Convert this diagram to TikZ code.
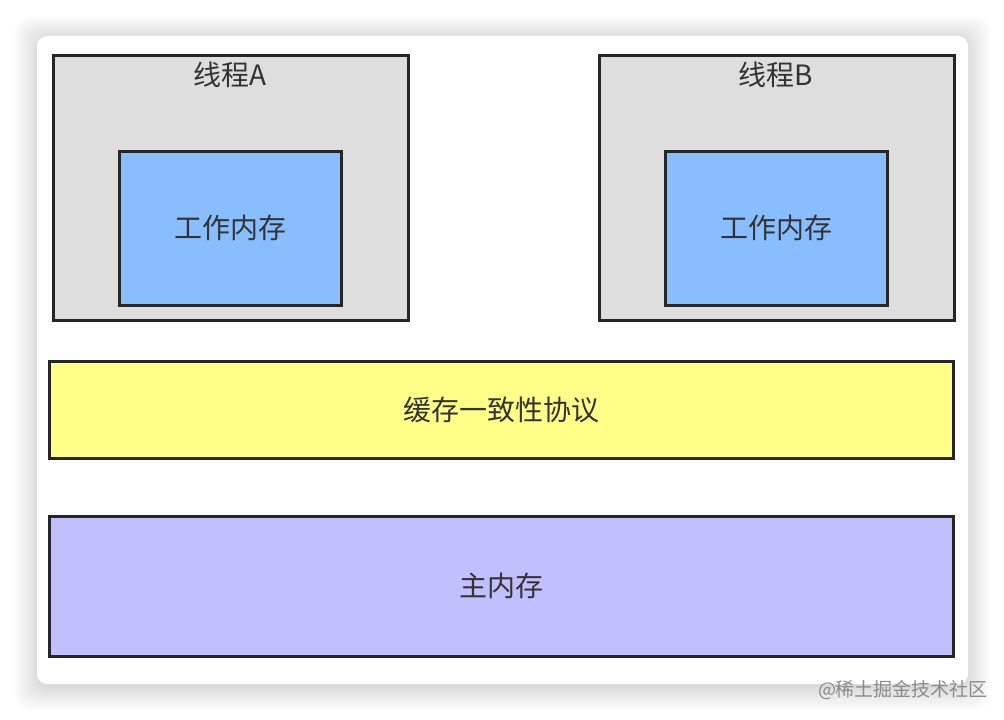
\documentclass[tikz,border=0pt]{standalone}
\usepackage{fontspec}
\setmainfont{Noto Sans CJK SC}
\usepackage{tikz}
\usetikzlibrary{positioning}

\definecolor{threadgray}{HTML}{DEDEDE}
\definecolor{workblue}{HTML}{88BEFF}
\definecolor{cacheyellow}{HTML}{FFFF88}
\definecolor{mainpurple}{HTML}{C0C0FF}
\definecolor{edgegray}{HTML}{262626}
\definecolor{txtgray}{HTML}{333333}

\tikzset{
  box/.style={draw=edgegray, line width=3pt, inner sep=0pt, text=txtgray,
    font=\fontsize{28}{32}\selectfont},
  threadbox/.style={box, fill=threadgray, minimum width=355pt, minimum height=265pt},
  workbox/.style={box, fill=workblue, minimum width=222pt, minimum height=154pt},
  barbox/.style={box, minimum width=904pt},
  title/.style={text=txtgray, font=\fontsize{28}{32}\selectfont, inner sep=0pt}
}

\begin{document}
\begin{tikzpicture}[x=1pt, y=-1pt]
\useasboundingbox (0,0) rectangle (1004,720);
\fill[white] (0,0) rectangle (1004,720);
% card shadow
\foreach \s in {1,...,14}
  \fill[black, opacity=0.012, rounded corners=16pt] (37-2*\s+6,36-2*\s+8) rectangle (968+2*\s-6,684+2*\s-2);
\fill[white, rounded corners=10pt] (37,36) rectangle (968,684);

% thread nodes
\node[threadbox] (TA) at (230.5,187.5) {};
\node[threadbox] (TB) at (776.5,187.5) {};
\node[title] (TAt) at (230,75) {线程A};
\node[title] (TBt) at (776,75) {线程B};

% working memory nodes
\node[workbox] (WA) at (230,228) {\raisebox{-3pt}{工作内存}};
\node[workbox] (WB) at (776,228) {\raisebox{-3pt}{工作内存}};

% cache and main memory
\node[barbox, fill=cacheyellow, minimum height=97pt] (C) at (501,409.5) {\raisebox{-3pt}{缓存一致性协议}};
\node[barbox, fill=mainpurple, minimum height=140pt] (M) at (501,586) {\raisebox{-3pt}{主内存}};

% watermark
\node[text=black!45, font=\fontsize{19}{22}\selectfont, inner sep=0pt] (wm) at (903,690) {@稀土掘金技术社区};
\end{tikzpicture}
\end{document}
